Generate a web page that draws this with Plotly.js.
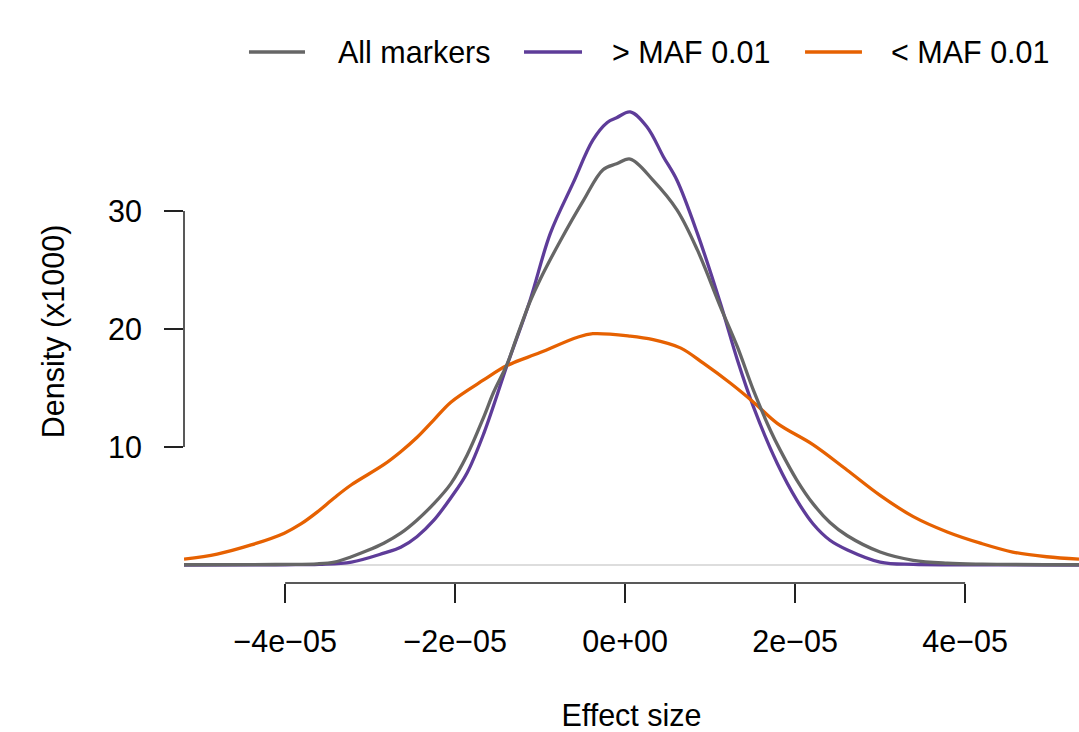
<!DOCTYPE html>
<html>
<head>
<meta charset="utf-8">
<script src="https://cdn.plot.ly/plotly-3.0.1.min.js"></script>
<style>
  html, body { margin: 0; padding: 0; background: #ffffff; }
  #chart { width: 1079px; height: 732px; }
</style>
</head>
<body>
<div id="chart"></div>
<script>
// Effect size (x values) and density (x1000)
const allEffect = [-5.19e-5, -4.4e-5, -4.0e-5, -3.62e-5, -3.42e-5, -3.22e-5, -3.04e-5, -2.84e-5, -2.64e-5, -2.45e-5, -2.25e-5, -2.05e-5, -1.86e-5, -1.66e-5, -1.55e-5, -1.39e-5, -1.27e-5, -1.12e-5, -1.0e-5, -7.6e-6, -4.9e-6, -2.6e-6, -1.0e-6, 6e-7, 3.3e-6, 6.1e-6, 8.5e-6, 1.12e-5, 1.32e-5, 1.51e-5, 1.71e-5, 1.82e-5, 2.02e-5, 2.21e-5, 2.41e-5, 2.61e-5, 3.0e-5, 3.39e-5, 3.79e-5, 4.2e-5, 5.34e-5];
const allDensity = [0.02, 0.03, 0.05, 0.1, 0.25, 0.7, 1.2, 1.85, 2.7, 3.8, 5.2, 6.9, 9.3, 12.6, 14.6, 17.0, 19.4, 22.3, 24.2, 27.5, 30.9, 33.5, 34.0, 34.4, 32.6, 30.1, 26.7, 21.9, 18.5, 14.8, 11.4, 9.8, 7.2, 5.2, 3.6, 2.5, 1.1, 0.4, 0.15, 0.07, 0.02];

const commonEffect = [-5.19e-5, -4.0e-5, -3.6e-5, -3.22e-5, -2.84e-5, -2.64e-5, -2.45e-5, -2.25e-5, -2.05e-5, -1.86e-5, -1.66e-5, -1.39e-5, -1.12e-5, -8.8e-6, -6.1e-6, -3.8e-6, -2.1e-6, -1.0e-6, 6e-7, 2.6e-6, 4.5e-6, 6.1e-6, 8.5e-6, 1.12e-5, 1.32e-5, 1.51e-5, 1.79e-5, 2.02e-5, 2.21e-5, 2.41e-5, 2.61e-5, 3.0e-5, 3.39e-5, 4.0e-5, 5.34e-5];
const commonDensity = [0.0, 0.02, 0.06, 0.25, 1.0, 1.5, 2.4, 3.8, 5.7, 7.8, 11.2, 16.9, 22.4, 28.1, 32.4, 36.0, 37.5, 37.9, 38.4, 37.1, 34.6, 32.6, 28.1, 22.2, 17.4, 13.4, 8.6, 5.5, 3.5, 2.1, 1.3, 0.25, 0.05, 0.02, 0.0];

const rareEffect = [-5.19e-5, -4.8e-5, -4.4e-5, -4.01e-5, -3.81e-5, -3.62e-5, -3.42e-5, -3.22e-5, -2.84e-5, -2.64e-5, -2.45e-5, -2.25e-5, -2.05e-5, -1.66e-5, -1.39e-5, -1.0e-5, -5.6e-6, -3.8e-6, 6e-7, 3.3e-6, 6.5e-6, 9.2e-6, 1.24e-5, 1.51e-5, 1.79e-5, 2.21e-5, 2.61e-5, 3.0e-5, 3.39e-5, 3.79e-5, 4.18e-5, 4.56e-5, 4.96e-5, 5.34e-5];
const rareDensity = [0.5, 0.93, 1.7, 2.7, 3.5, 4.5, 5.7, 6.8, 8.5, 9.6, 10.8, 12.3, 13.8, 15.7, 16.9, 18.0, 19.3, 19.6, 19.4, 19.1, 18.4, 17.1, 15.4, 13.8, 12.0, 10.2, 8.05, 5.9, 4.1, 2.8, 1.85, 1.1, 0.7, 0.5];

const seriesNames = ['All markers', '> MAF 0.01', '< MAF 0.01'];
const seriesColors = ['#666666', '#5e3c99', '#e66101'];

const xTickVals = [-4e-5, -2e-5, 0, 2e-5, 4e-5];
const xTickText = ['\u22124e\u221205', '\u22122e\u221205', '0e+00', '2e\u221205', '4e\u221205'];
const yTickVals = [10, 20, 30];
const yTickText = ['10', '20', '30'];

const FONT = 'Liberation Sans, Arial, Helvetica, sans-serif';
const FS = 30.5;
const AXIS_COLOR = '#222222';
const LW = 3.3;

const traces = [
  { x: commonEffect, y: commonDensity, name: seriesNames[1], showlegend: false,
    mode: 'lines', line: { color: seriesColors[1], width: LW, shape: 'spline', smoothing: 1 } },
  { x: rareEffect, y: rareDensity, name: seriesNames[2], showlegend: false,
    mode: 'lines', line: { color: seriesColors[2], width: LW, shape: 'spline', smoothing: 1 } },
  { x: allEffect, y: allDensity, name: seriesNames[0], showlegend: false,
    mode: 'lines', line: { color: seriesColors[0], width: LW, shape: 'spline', smoothing: 1 } }
];

// Legend drawn as line keys + text (R-style spacing), paper coordinates
const legendLineX = [[0.0726, 0.1352], [0.3799, 0.4447], [0.6939, 0.7575]];
const legendTextX = [0.1698, 0.4760, 0.7877];
const legendY = 1.0557;

const shapes = [
  { type: 'line', xref: 'paper', yref: 'y', x0: 0, x1: 0, y0: yTickVals[0], y1: yTickVals[yTickVals.length - 1],
    line: { color: AXIS_COLOR, width: 1.5 } },
  { type: 'line', xref: 'x', yref: 'paper', x0: xTickVals[0], x1: xTickVals[xTickVals.length - 1], y0: 0, y1: 0,
    line: { color: AXIS_COLOR, width: 1.5 } }
];
const annotations = [];
seriesNames.forEach(function (name, i) {
  shapes.push({ type: 'line', xref: 'paper', yref: 'paper',
    x0: legendLineX[i][0], x1: legendLineX[i][1], y0: legendY, y1: legendY,
    line: { color: seriesColors[i], width: 3.5 } });
  annotations.push({ xref: 'paper', yref: 'paper', x: legendTextX[i], y: legendY,
    xanchor: 'left', yanchor: 'middle', showarrow: false, text: name,
    font: { family: FONT, size: FS, color: '#000000' } });
});

const layout = {
  width: 1079, height: 732,
  margin: { l: 184, r: 0, t: 80, b: 149 },
  paper_bgcolor: '#ffffff', plot_bgcolor: '#ffffff',
  font: { family: FONT, size: FS, color: '#000000' },
  showlegend: false,
  xaxis: {
    range: [-5.19e-5, 5.34e-5],
    tickvals: xTickVals, ticktext: xTickText,
    ticks: 'outside', ticklen: 19, tickwidth: 1.5, tickcolor: AXIS_COLOR,
    showgrid: false, zeroline: false, showline: false,
    tickfont: { family: FONT, size: FS, color: '#000000' },
    ticklabelstandoff: 12,
    title: { text: 'Effect size', font: { family: FONT, size: FS, color: '#000000' }, standoff: 52 },
    automargin: false
  },
  yaxis: {
    range: [-1.525, 41.1],
    tickvals: yTickVals, ticktext: yTickText,
    ticks: 'outside', ticklen: 19, tickwidth: 1.5, tickcolor: AXIS_COLOR,
    showgrid: false, showline: false,
    zeroline: true, zerolinecolor: '#dddddd', zerolinewidth: 2,
    tickfont: { family: FONT, size: FS, color: '#000000' },
    ticklabelstandoff: 16,
    title: { text: 'Density (x1000)', font: { family: FONT, size: FS, color: '#000000' }, standoff: 34 },
    automargin: false
  },
  shapes: shapes,
  annotations: annotations
};

Plotly.newPlot('chart', traces, layout, { staticPlot: true, displayModeBar: false });
</script>
</body>
</html>
